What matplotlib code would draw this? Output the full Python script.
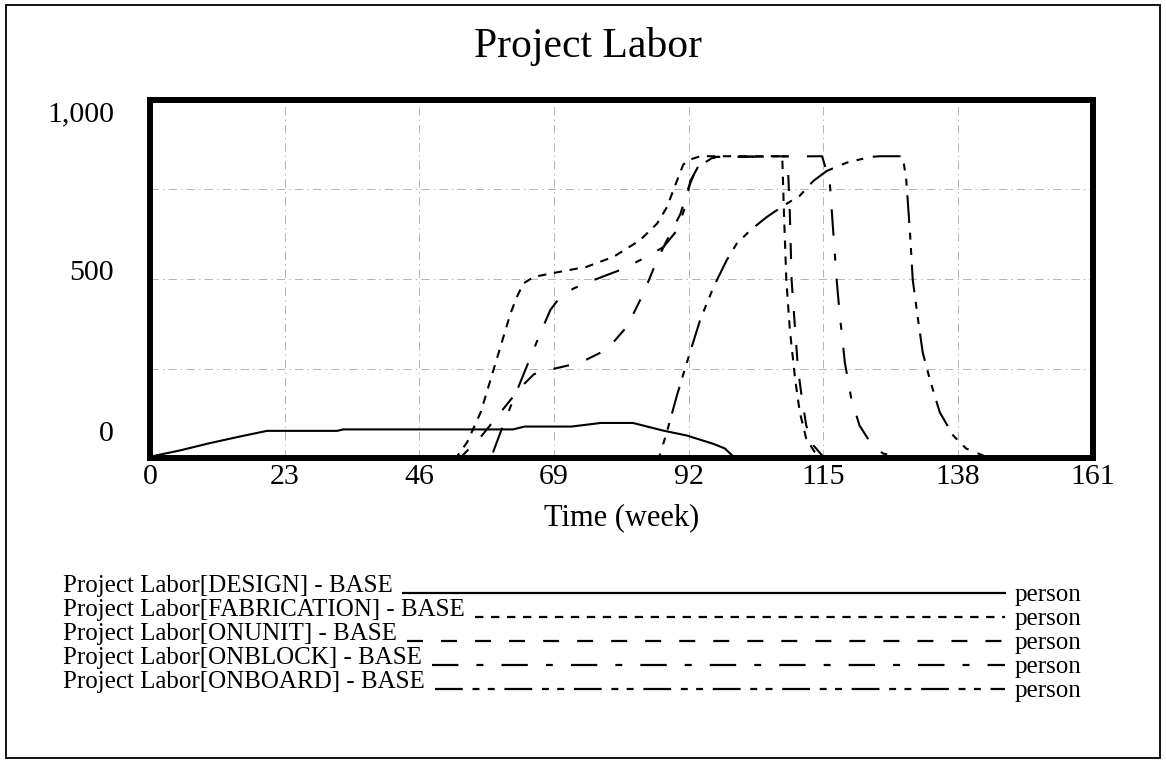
import matplotlib
matplotlib.use("Agg")
import matplotlib.pyplot as plt
import matplotlib.transforms as mtransforms
from matplotlib.lines import Line2D
from matplotlib.patches import Rectangle

plt.rcParams['font.family'] = ['Liberation Serif', 'DejaVu Serif']
plt.rcParams['lines.scale_dashes'] = False

# ---------------- data ----------------
x_ticks = [0, 23, 46, 69, 92, 115, 138, 161]
y_ticks = [0, 250, 500, 750, 1000]
y_tick_labels = ['0', '', '500', '', '1,000']

series_names = ['Project Labor[DESIGN] - BASE',
                'Project Labor[FABRICATION] - BASE',
                'Project Labor[ONUNIT] - BASE',
                'Project Labor[ONBLOCK] - BASE',
                'Project Labor[ONBOARD] - BASE']
units = 'person'

design_t = [0, 5, 10, 15, 20, 32, 33, 62, 64, 72, 77, 82.5, 87.6, 91.7, 96.2, 98.2, 100, 161]
design_v = [5, 22, 42, 60, 77, 77, 81, 81, 89, 89, 99, 99, 78, 64, 41, 28, 0, 0]

fab_t = [0, 52.2, 54.2, 56.5, 58.2, 59.9, 61.6, 62.7, 63.8, 65.6, 69.0, 74.6, 79.2, 83.7, 86.6,
         88.3, 90.0, 91.1, 92.3, 94.0, 108.0, 108.3, 108.7, 109.3, 110.2, 111.0, 112.1, 113.9, 115.6, 161]
fab_v = [0, 0, 46, 129, 221, 313, 405, 451, 488, 506, 517, 534, 562, 608, 654,
         700, 773, 819, 833, 842, 842, 681, 497, 359, 221, 129, 55, 9, 0, 0]

onunit_t = [0, 52.9, 56.7, 59.9, 63.3, 65.6, 69.0, 73.5, 78.1, 81.5, 84.3, 86.6, 88.3, 90.6, 92.0,
            93.4, 96.3, 108.9, 109.3, 109.6, 110.2, 110.7, 111.3, 112.1, 113.3, 115.0, 116.7, 161]
onunit_v = [0, 0, 64, 129, 198, 235, 250, 267, 304, 368, 460, 552, 608, 681, 755,
            810, 840, 842, 681, 497, 359, 249, 175, 92, 37, 5, 0, 0]

onblock_t = [0, 58.2, 59.9, 62.1, 64.4, 66.7, 68.4, 70.1, 72.4, 75.8, 80.3, 84.9, 87.7, 90.0, 91.4,
             92.3, 94.0, 96.8, 114.8, 116.1, 116.7, 117.3, 117.8, 118.7, 119.8, 121.2, 123.0, 125.2, 129.2, 161]
onblock_v = [0, 0, 74, 166, 258, 350, 414, 451, 474, 497, 525, 562, 589, 635, 700,
             773, 824, 840, 842, 773, 635, 497, 405, 267, 166, 92, 46, 14, 0, 0]

onboard_t = [0, 86.9, 88.3, 90.0, 91.7, 94.0, 96.3, 98.5, 100.2, 102.5, 105.3, 108.2, 108.7, 111.0,
             113.3, 115.6, 119.0, 123.0, 124.7, 128.6, 129.2, 129.8, 130.3, 131.2, 132.0, 133.2,
             134.9, 137.2, 139.4, 142.8, 146.8, 161]
onboard_v = [0, 0, 74, 175, 267, 387, 479, 552, 598, 635, 672, 704, 709, 732,
             773, 801, 824, 840, 842, 842, 773, 635, 497, 387, 295, 221,
             129, 64, 28, 5, 0, 0]

# ---------------- styles ----------------
styles = ['-',
          (0, (6, 5.5)),
          (0, (11.5, 13)),
          (0, (19, 13, 5, 13)),
          (0, (20, 7, 5, 6, 5, 7))]
series = [(design_t, design_v), (fab_t, fab_v), (onunit_t, onunit_v),
          (onblock_t, onblock_v), (onboard_t, onboard_v)]

W, H = 1166, 764
fig = plt.figure(figsize=(W / 100, H / 100), dpi=100)

def fx(px):
    return px / W

def fy(py):
    return 1 - py / H

# outer frame
fig.patches.append(Rectangle((fx(6), fy(758)), fx(1160) - fx(6), fy(5) - fy(758),
                             transform=fig.transFigure, fill=False, lw=1.3, ec='black'))

ax = fig.add_axes([fx(150), fy(458.5), fx(1092.5) - fx(150), fy(99.5) - fy(458.5)])
for (t, v), ls in zip(series, styles):
    ax.plot(t, v, color='black', lw=1.5, linestyle=ls)

ax.set_xlim(0, 161)
ax.set_ylim(0, 1000)
ax.set_xticks(x_ticks)
ax.set_xticklabels([str(x) for x in x_ticks])
ax.set_yticks(y_ticks)
ax.set_yticklabels(y_tick_labels)
ax.tick_params(axis='both', length=0, labelsize=21.5)
ax.tick_params(axis='x', pad=4)
ax.tick_params(axis='y', pad=26)
for s in ax.spines.values():
    s.set_linewidth(4.3)
    s.set_zorder(5)
ax.grid(True, color='#b4b4b4', lw=0.7, linestyle=(0, (6, 3, 1, 3)))

# vertical offsets of y tick labels (as in the reference)
offsets = {0: 27, 500: 9, 1000: -12}
for lbl, val in zip(ax.get_yticklabels(), y_ticks):
    if val in offsets:
        dy = offsets[val]
        lbl.set_transform(lbl.get_transform() +
                          mtransforms.ScaledTranslation(0, dy / 100, fig.dpi_scale_trans))

ax.set_xlabel('Time (week)', fontsize=22)
ax.xaxis.set_label_coords(0.5, (458.5 - 518) / 359)
ax.xaxis.label.set_va('center')

fig.text(fx(588), fy(46), 'Project Labor', ha='center', va='center', fontsize=30)

# legend
row_y = [586, 610, 634, 658, 682]
texts = []
for name, yy in zip(series_names, row_y):
    texts.append(fig.text(fx(63), fy(yy), name, ha='left', va='center', fontsize=18))
    fig.text(fx(1015), fy(yy + 9), units, ha='left', va='center', fontsize=18)

fig.canvas.draw()
renderer = fig.canvas.get_renderer()
for tx, yy, ls in zip(texts, row_y, styles):
    bb = tx.get_window_extent(renderer)
    x0 = bb.x1 + 10
    fig.add_artist(Line2D([x0 / W, fx(1005)], [fy(yy + 7), fy(yy + 7)],
                          transform=fig.transFigure, color='black', lw=1.6, linestyle=ls))

fig.savefig('out.png', dpi=100)
